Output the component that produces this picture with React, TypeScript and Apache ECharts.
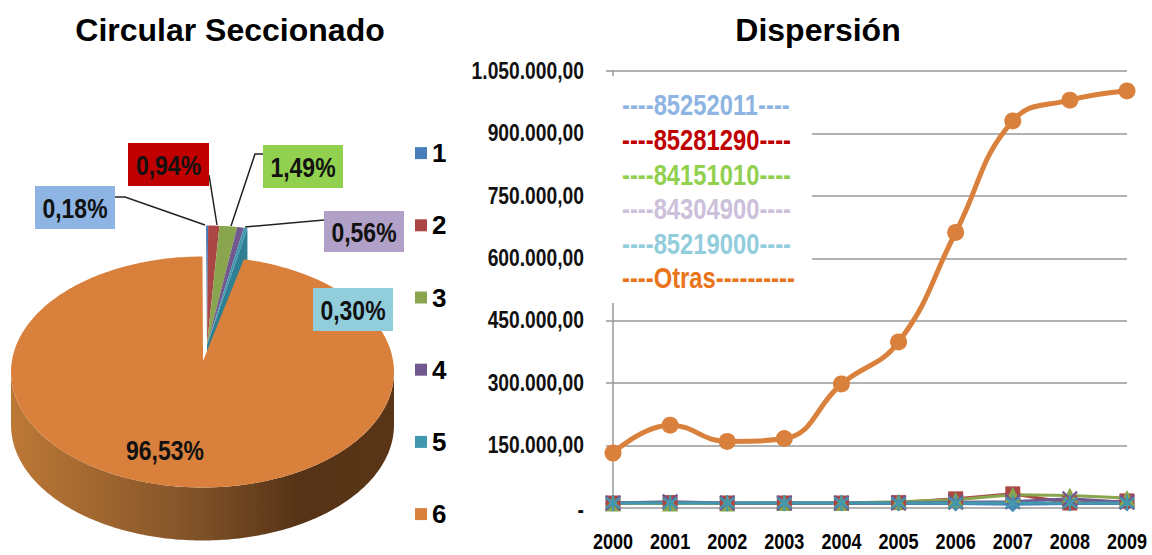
import React, { useEffect, useRef } from "react";
import * as echarts from "echarts";

const ARIAL = "'Liberation Sans', sans-serif";
const NARROW = 0.82; // the reference's face is a condensed bold

const pieNames = ["1", "2", "3", "4", "5", "6"];
const pieValues = [0.18, 0.94, 1.49, 0.56, 0.3, 96.53];
const pieColors = ["#4a7ebb", "#aa4643", "#89a54e", "#71588f", "#4198af", "#d9813c"];
const pieSideColors = ["#3a6090", "#843634", "#6a803c", "#57446e", "#2f7f93", "#8a5527"];
const labelFills = ["#8db4e2", "#c00000", "#92d050", "#b1a0c7", "#92cddc"];

const years = ["2000", "2001", "2002", "2003", "2004", "2005", "2006", "2007", "2008", "2009"];
const yTicks = [0, 150000, 300000, 450000, 600000, 750000, 900000, 1050000];
const lineNames = ["85252011", "85281290", "84151010", "84304900", "85219000", "Otras"];
const s85252011 = [11000, 11000, 11000, 11000, 11000, 11000, 11000, 9000, 11000, 11000];
const s85281290 = [12000, 13000, 12000, 12000, 12000, 13000, 22000, 34000, 12000, 17000];
const s84151010 = [11000, 11000, 11000, 12000, 12000, 15000, 20000, 32000, 30000, 24000];
const s84304900 = [12000, 15000, 12000, 12000, 12000, 12000, 14000, 15000, 22000, 14000];
const s85219000 = [12000, 12000, 12000, 12000, 12000, 12000, 12000, 12000, 12000, 12000];
const sOtras = [132000, 199000, 160000, 167000, 298000, 399000, 662000, 930000, 980000, 1002000];
const lineColors = ["#4a7ebb", "#aa4643", "#89a54e", "#71588f", "#4198af", "#d9813c"];
const lineLegendColors = ["#8db4e2", "#c00000", "#92d050", "#ccc0da", "#92cddc", "#e9741a"];
const lineLegendText = [
  "----85252011----",
  "----85281290----",
  "----84151010----",
  "----84304900----",
  "----85219000----",
  "----Otras----------",
];

const CROSS = "path://M1 0 L5 4 L9 0 L10 1 L6 5 L10 9 L9 10 L5 6 L1 10 L0 9 L4 5 L0 1 Z";
const STAR =
  "path://M4.4 0 H5.6 V3.6 L8.8 1.2 L9.6 2.2 L6.4 5 L9.6 7.8 L8.8 8.8 L5.6 6.4 V10 H4.4 V6.4 L1.2 8.8 L0.4 7.8 L3.6 5 L0.4 2.2 L1.2 1.2 L4.4 3.6 Z";
const lineSymbols = ["diamond", "rect", "triangle", CROSS, STAR, "circle"];
const lineData = [s85252011, s85281290, s84151010, s84304900, s85219000, sOtras];

const fmtPct = (v: number) => v.toFixed(2).replace(".", ",") + "%";
const fmtAxis = (v: number) =>
  v === 0 ? "-" : String(v).replace(/\B(?=(\d{3})+$)/g, ".") + ",00";

// pie geometry
const CX = 202.5, CY = 372, RX = 191.5, RY = 115.5, DEPTH = 53;
const APEX_Y = 361;
const SMALL_DX = 3.5, SMALL_DY = -31, SMALL_APEX_Y = 345;

const total = pieValues.reduce((a, b) => a + b, 0);
const startFrac = (i: number) => pieValues.slice(0, i).reduce((a, b) => a + b, 0) / total;

const outline = (frac: number, dx = 0, dy = 0): number[] => {
  const t = frac * Math.PI * 2;
  return [CX + dx + RX * Math.sin(t), CY + dy - RY * Math.cos(t)];
};
const arcPts = (a: number, b: number, dx = 0, dy = 0) => {
  const n = Math.max(2, Math.ceil((b - a) * 360));
  const pts: number[][] = [];
  for (let k = 0; k <= n; k++) pts.push(outline(a + ((b - a) * k) / n, dx, dy));
  return pts;
};

const renderSlice = (i: number) => () => {
  const a = startFrac(i);
  const b = startFrac(i + 1);
  const children: any[] = [];
  if (i === pieValues.length - 1) {
    const front = arcPts(0.25, 0.75);
    const wall = [...front, ...front.slice().reverse().map((p) => [p[0], p[1] + DEPTH])];
    children.push({
      type: "polygon",
      shape: { points: wall },
      style: {
        fill: new echarts.graphic.LinearGradient(0, 0, 1, 0, [
          { offset: 0, color: "#bd7835" },
          { offset: 0.45, color: "#85552a" },
          { offset: 0.75, color: "#563316" },
          { offset: 1, color: "#5a3517" },
        ]),
      },
    });
    children.push({
      type: "polygon",
      shape: { points: [[CX + 0.5, APEX_Y], ...arcPts(a, b)] },
      style: { fill: pieColors[i] },
    });
  } else {
    const apex = [CX + SMALL_DX + 1, SMALL_APEX_Y];
    if (i === pieValues.length - 2) {
      const o = outline(b, SMALL_DX, SMALL_DY);
      children.push({
        type: "polygon",
        shape: { points: [apex, o, [o[0], o[1] + DEPTH], [apex[0], apex[1] + DEPTH]] },
        style: { fill: pieSideColors[i] },
      });
    }
    children.push({
      type: "polygon",
      shape: { points: [apex, ...arcPts(a, b, SMALL_DX, SMALL_DY)] },
      style: { fill: pieColors[i] },
    });
  }
  return { type: "group", children };
};

const labelBoxes = [
  { x: 35, y: 186, w: 80, h: 43, line: [[115, 197], [125, 197], [205, 225]] },
  { x: 128, y: 143, w: 81, h: 43, line: [[209, 175], [217, 225]] },
  { x: 263, y: 145, w: 80, h: 43, line: [[263, 154], [255, 154], [231, 226]] },
  { x: 324, y: 211, w: 80, h: 41, line: [[324, 220], [245, 227]] },
  { x: 313, y: 288, w: 80, h: 43, line: null },
];

const narrowText = (text: string, x: number, y: number, size: number, fill: string, align = "center") => ({
  type: "text",
  z: 6,
  x,
  y,
  scaleX: NARROW,
  style: {
    text,
    fill,
    font: `bold ${size}px ${ARIAL}`,
    textAlign: align,
    textVerticalAlign: "middle",
  },
});

export default function App() {
  const ref = useRef<HTMLDivElement>(null);
  useEffect(() => {
    document.body.style.margin = "0";
    const chart = echarts.init(ref.current!, null, { renderer: "svg" });

    const pieSeries = pieNames.map((name, i) => ({
      name,
      type: "custom",
      coordinateSystem: "none",
      silent: true,
      z: 2,
      itemStyle: { color: pieColors[i] },
      data: [[pieValues[i]]],
      renderItem: renderSlice(i),
    }));
    const lineSeries = lineNames.map((name, i) => ({
      name,
      type: "line",
      data: lineData[i],
      smooth: i === 5 ? 0.45 : false,
      symbol: lineSymbols[i],
      symbolSize: i === 5 ? 17 : i === 1 ? 15 : 16,
      lineStyle: { color: lineColors[i], width: i === 5 ? 5 : 3 },
      itemStyle: { color: lineColors[i] },
      z: 2,
    }));

    chart.setOption({
      animation: false,
      backgroundColor: "#fff",
      grid: { left: 613, right: 25, top: 71, bottom: 47, containLabel: false },
      xAxis: {
        type: "category",
        data: years,
        boundaryGap: false,
        axisLine: { show: false },
        axisTick: { show: false },
        axisLabel: { show: false },
      },
      yAxis: {
        type: "value",
        min: 0,
        max: yTicks[yTicks.length - 1],
        interval: 150000,
        axisLine: { show: true, lineStyle: { color: "#999", width: 1.5 } },
        axisTick: { show: true, length: 7, lineStyle: { color: "#999", width: 1.5 } },
        splitLine: { show: true, lineStyle: { color: "#999", width: 1.5 } },
        axisLabel: { show: false },
      },
      legend: {
        data: pieNames.map((n, i) => ({ name: n, itemStyle: { color: pieColors[i] } })),
        orient: "vertical",
        left: 410,
        top: 112,
        height: 500,
        icon: "rect",
        itemWidth: 12,
        itemHeight: 12,
        itemGap: 0,
        selectedMode: false,
        textStyle: { fontFamily: ARIAL, fontWeight: "bold", fontSize: 26, color: "#000", lineHeight: 72.2 },
      },
      series: [...pieSeries, ...lineSeries],
    });

    const graphics: any[] = [
      { type: "rect", z: 3, shape: { x: 606, y: 76, width: 206, height: 227 }, style: { fill: "#fff" } },
      {
        type: "text", z: 6, x: 230, y: 30,
        style: { text: "Circular Seccionado", fill: "#000", font: `bold 32px ${ARIAL}`, textAlign: "center", textVerticalAlign: "middle" },
      },
      {
        type: "text", z: 6, x: 818, y: 30,
        style: { text: "Dispersión", fill: "#000", font: `bold 32px ${ARIAL}`, textAlign: "center", textVerticalAlign: "middle" },
      },
      narrowText(fmtPct(pieValues[5]), 165, 450, 28, "#111"),
    ];
    labelBoxes.forEach((b, i) => {
      if (b.line)
        graphics.push({
          type: "polyline", z: 5,
          shape: { points: b.line },
          style: { stroke: "#222", lineWidth: 1.5, fill: "none" },
        });
      graphics.push({
        type: "rect", z: 5,
        shape: { x: b.x, y: b.y, width: b.w, height: b.h },
        style: { fill: labelFills[i] },
      });
      graphics.push(narrowText(fmtPct(pieValues[i]), b.x + b.w / 2, b.y + b.h / 2 + 1, 28, "#111"));
    });
    lineLegendText.forEach((t, i) => {
      graphics.push(narrowText(t, 622, 105.5 + i * 34.6, 29, lineLegendColors[i], "left"));
    });
    yTicks.forEach((v) => {
      const py = chart.convertToPixel({ yAxisIndex: 0 }, v) as number;
      graphics.push(narrowText(fmtAxis(v), 584, py + (v === 0 ? 2 : 0), 23.5, "#111", "right"));
    });
    years.forEach((y, i) => {
      const px = chart.convertToPixel({ xAxisIndex: 0 }, i) as number;
      graphics.push(narrowText(y, Math.min(px, 1128), 541, 22, "#000"));
    });
    chart.setOption({ graphic: graphics });

    return () => chart.dispose();
  }, []);
  return <div ref={ref} style={{ position: "absolute", left: 0, top: 0, width: 1152, height: 555 }} />;
}
